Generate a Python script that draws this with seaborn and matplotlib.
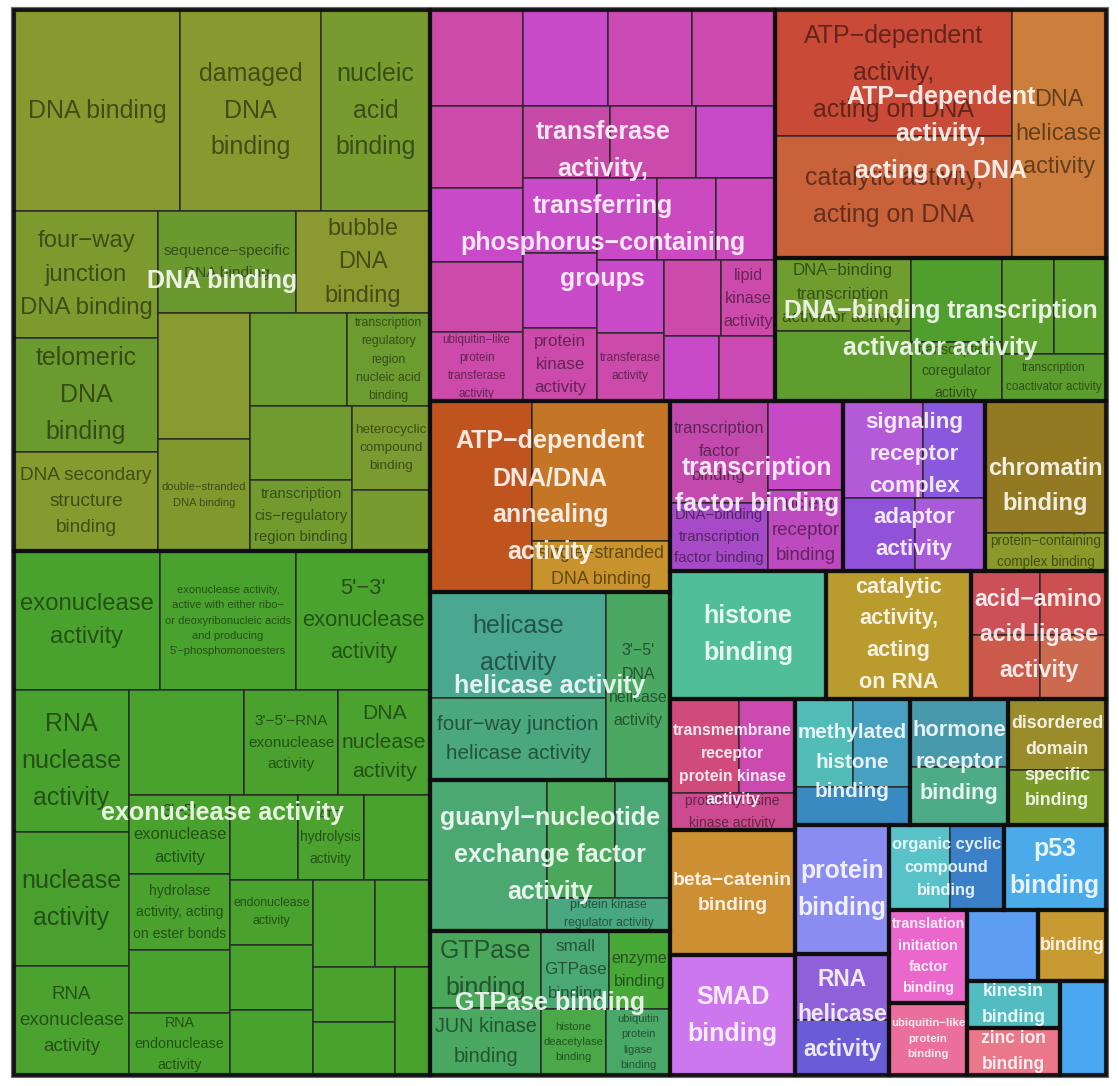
import matplotlib
matplotlib.use("Agg")
import matplotlib.pyplot as plt
from matplotlib.patches import Rectangle
import seaborn as sns

sns.set_theme(style="white")
plt.rcParams["font.family"] = ["Liberation Sans", "DejaVu Sans"]

# ---- parent terms (group labels) ----
parent_labels = [
    "DNA binding",
    "exonuclease activity",
    "transferase\nactivity,\ntransferring\nphosphorus−containing\ngroups",
    "ATP−dependent\nactivity,\nacting on DNA",
    "DNA−binding transcription\nactivator activity",
    "ATP−dependent\nDNA/DNA\nannealing\nactivity",
    "helicase activity",
    "guanyl−nucleotide\nexchange factor\nactivity",
    "GTPase binding",
    "transcription\nfactor binding",
    "signaling\nreceptor\ncomplex\nadaptor\nactivity",
    "chromatin\nbinding",
    "histone\nbinding",
    "catalytic\nactivity,\nacting\non RNA",
    "acid−amino\nacid ligase\nactivity",
    "transmembrane\nreceptor\nprotein kinase\nactivity",
    "beta−catenin\nbinding",
    "SMAD\nbinding",
    "methylated\nhistone\nbinding",
    "hormone\nreceptor\nbinding",
    "disordered\ndomain\nspecific\nbinding",
    "protein\nbinding",
    "RNA\nhelicase\nactivity",
    "organic cyclic\ncompound\nbinding",
    "p53\nbinding",
    "translation\ninitiation\nfactor\nbinding",
    "ubiquitin−like\nprotein\nbinding",
    "",
    "binding",
    "kinesin\nbinding",
    "zinc ion\nbinding",
    "",
]

# ---- terms: parent index, label, size ----
term_parent = (
    [0] * 16 + [1] * 24 + [2] * 23 + [3] * 3 + [4] * 7 + [5] * 3 + [6] * 3
    + [7] * 4 + [8] * 6 + [9] * 4 + [10] * 4 + [11] * 2 + [12] + [13]
    + [14] * 4 + [15] * 3 + [16] + [17] + [18] * 3 + [19] * 2 + [20] * 2
    + [21] + [22] * 2 + [23] * 2 + [24] + [25] + [26] + [27] + [28] + [29]
    + [30] + [31]
)

term_labels = [
    # DNA binding
    "DNA binding", "damaged\nDNA\nbinding", "nucleic\nacid\nbinding",
    "four−way\njunction\nDNA binding", "telomeric\nDNA\nbinding",
    "DNA secondary\nstructure\nbinding", "sequence−specific\nDNA binding",
    "bubble\nDNA\nbinding", "", "double−stranded\nDNA binding", "",
    "transcription\nregulatory\nregion\nnucleic acid\nbinding", "",
    "transcription\ncis−regulatory\nregion binding",
    "heterocyclic\ncompound\nbinding", "",
    # exonuclease activity
    "exonuclease\nactivity",
    "exonuclease activity,\nactive with either ribo−\nor deoxyribonucleic acids\nand producing\n5'−phosphomonoesters",
    "5'−3'\nexonuclease\nactivity", "RNA\nnuclease\nactivity", "nuclease\nactivity",
    "RNA\nexonuclease\nactivity", "", "3'−5'−RNA\nexonuclease\nactivity",
    "DNA\nnuclease\nactivity", "3'−5'\nexonuclease\nactivity",
    "hydrolase\nactivity, acting\non ester bonds", "", "RNA\nendonuclease\nactivity",
    "", "ATP\nhydrolysis\nactivity", "", "endonuclease\nactivity",
    "", "", "", "", "", "", "",
    # transferase
    "", "", "", "", "", "", "", "ubiquitin−like\nprotein\ntransferase\nactivity",
    "", "", "", "", "", "protein\nkinase\nactivity", "", "", "", "",
    "transferase\nactivity", "", "lipid\nkinase\nactivity", "", "",
    # ATP-dependent activity, acting on DNA
    "ATP−dependent\nactivity,\nacting on DNA", "catalytic activity,\nacting on DNA",
    "DNA\nhelicase\nactivity",
    # DNA-binding transcription activator activity
    "DNA−binding\ntranscription\nactivator activity", "", "",
    "transcription\ncoregulator\nactivity", "", "",
    "transcription\ncoactivator activity",
    # ATP-dependent DNA/DNA annealing
    "", "", "single−stranded\nDNA binding",
    # helicase activity
    "helicase\nactivity", "four−way junction\nhelicase activity",
    "3'−5'\nDNA\nhelicase\nactivity",
    # guanyl-nucleotide exchange factor activity
    "", "", "", "protein kinase\nregulator activity",
    # GTPase binding
    "GTPase\nbinding", "JUN kinase\nbinding", "small\nGTPase\nbinding",
    "enzyme\nbinding", "histone\ndeacetylase\nbinding",
    "ubiquitin\nprotein\nligase\nbinding",
    # transcription factor binding
    "transcription\nfactor\nbinding", "DNA−binding\ntranscription\nfactor binding",
    "", "nuclear\nreceptor\nbinding",
    # signaling receptor complex adaptor activity
    "", "", "", "",
    # chromatin binding
    "", "protein−containing\ncomplex binding",
    # histone binding, catalytic activity acting on RNA
    "", "",
    # acid-amino acid ligase
    "", "", "", "",
    # transmembrane receptor protein kinase
    "", "", "protein tyrosine\nkinase activity",
    # beta-catenin, SMAD
    "", "",
    # methylated histone, hormone receptor, disordered domain
    "", "", "", "", "", "", "",
    # protein binding, RNA helicase, organic cyclic
    "", "", "", "", "",
    # p53 ... last
    "", "", "", "", "", "", "", "",
]

term_sizes = [
    # DNA binding
    33366, 28341, 21909, 18288, 16416, 14256, 14076, 13668, 11592, 10304,
    9021, 7719, 7548, 7242, 6552, 4758,
    # exonuclease activity
    20294, 18904, 18626, 16330, 15410, 12535, 12075, 9870, 9660, 7979,
    7676, 6363, 6262, 5695, 5610, 5600, 5395, 5395, 5395, 5394, 4785,
    4510, 4346, 3780,
    # transferase
    8928, 8160, 8064, 8064, 7626, 6882, 6510, 6417, 6177, 6106, 5680,
    5550, 5550, 5400, 4920, 4900, 4880, 4860, 4556, 4408, 4104, 3640, 3640,
    # ATP-dependent activity, acting on DNA
    29736, 28792, 23312,
    # DNA-binding transcription activator activity
    9855, 9585, 7644, 5460, 4992, 4992, 4992,
    # ATP-dependent DNA/DNA annealing
    19400, 19200, 7000,
    # helicase activity
    18656, 14432, 12032,
    # guanyl-nucleotide exchange factor activity
    17667, 8024, 6490, 4059,
    # GTPase binding
    8547, 7437, 5304, 4758, 4290, 4224,
    # transcription factor binding
    9898, 6664, 6600, 6075,
    # signaling receptor complex adaptor activity
    7680, 5952, 5256, 5110,
    # chromatin binding
    15851, 4598,
    # histone binding, catalytic activity acting on RNA
    19968, 18688,
    # acid-amino acid ligase
    4422, 4422, 4221, 4221,
    # transmembrane receptor protein kinase
    6486, 5264, 4625,
    # beta-catenin, SMAD
    15600, 14900,
    # methylated histone, hormone receptor, disordered domain
    5100, 5050, 4370, 6700, 5700, 6900, 5400,
    # protein binding, RNA helicase, organic cyclic
    12200, 6175, 5225, 5100, 4590,
    # p53 ... last
    8670, 7176, 5616, 4970, 4828, 4420, 4400, 4300,
]

# ---- cell fill colours (style) ----
cell_colors = [
    "#889a2f", "#889a2f", "#789b2f", "#7d9a2f", "#6b9a2f", "#869a2f", "#6a9a2f",
    "#8a9a30", "#899b30", "#7e9a2f", "#6c9b2f", "#6c9b2f", "#719b2f", "#719b2f",
    "#7b9a2f", "#789b2f",
    "#4aa22e", "#4aa22e", "#4ba32f", "#4aa22e", "#4aa02e", "#4ba22f", "#4aa22e",
    "#4aa12e", "#4ba22f", "#4aa22e", "#4aa12e", "#4aa22e", "#4aa22e", "#4aa22e",
    "#4ba22f", "#4aa22e", "#4aa12e", "#4aa22e", "#4aa22e", "#4ba22f", "#4aa22e",
    "#4aa12e", "#4aa22e", "#4aa22e",
    "#cc4aa8", "#c84ac8", "#cc4ab4", "#cc4aae", "#cc4aaa", "#c84ac8", "#cc4aaa",
    "#cc4aaa", "#c84aa8", "#cc4aac", "#c84ac8", "#c84ac8", "#c84ac8", "#cc4aaa",
    "#c84ac4", "#cc4ac0", "#cc4abc", "#c84ac8", "#cc4aaa", "#cc4aaa", "#cc4aaa",
    "#c84ac8", "#cc4ab4",
    "#c84a37", "#c9613a", "#cc7f3c",
    "#6f9e2f", "#5f9e2e", "#4f9e2e", "#5a9e2e", "#5c9e2e", "#5c9e2e", "#5c9e2e",
    "#c0541f", "#c47526", "#c8922c",
    "#4aa890", "#4aa87c", "#4aa862",
    "#4aa870", "#4aa85a", "#4aa876", "#4aa880",
    "#4aa85c", "#4aa862", "#4aa872", "#48a838", "#4aa848", "#4aa868",
    "#c24aad", "#a74ac8", "#c64ac6", "#be4ac0",
    "#b25ad8", "#8a58dc", "#9052d8", "#a85ad8",
    "#937a22", "#8a9a2a",
    "#50be98", "#b99b2e",
    "#cc5058", "#cc5a4a", "#cc5050", "#cc6a50",
    "#d04a7a", "#cc4ab0", "#cc4a90",
    "#cc9033", "#cc77ee",
    "#52bdb8", "#48a0c0", "#3a8ac2", "#4899aa", "#4eab88", "#9a8c2a", "#7a9a2a",
    "#8a8cf2", "#9060d8", "#6a5cd6", "#58c2c8", "#3a80c8",
    "#4aaaea", "#ea68cc", "#ea6f9a", "#5e9ef2", "#c89a32", "#52bcc0", "#ea7888",
    "#4aa8f2",
]


def pivot_layout(sizes, x, y, w, h):
    """Pivot-by-size treemap (sizes sorted in decreasing order)."""
    if len(sizes) == 0:
        return []
    if len(sizes) == 1:
        return [(x, y, w, h)]
    total = sum(sizes)
    p, rest = sizes[0], sizes[1:]
    best_k, best_r = 0, None
    for k in range(len(rest) + 1):
        s = p + sum(rest[:k])
        if w >= h:
            a, b = w * s / total, h * p / s
        else:
            a, b = h * s / total, w * p / s
        r = max(a / b, b / a)
        if best_r is None or r < best_r - 1e-12:
            best_k, best_r = k, r
    l2, l3 = rest[:best_k], rest[best_k:]
    s = p + sum(l2)
    if w >= h:
        cw, ph = w * s / total, h * p / s
        return ([(x, y, cw, ph)] + pivot_layout(l2, x, y + ph, cw, h - ph)
                + pivot_layout(l3, x + cw, y, w - cw, h))
    rh, pw = h * s / total, w * p / s
    return ([(x, y, pw, rh)] + pivot_layout(l2, x + pw, y, w - pw, rh)
            + pivot_layout(l3, x, y + rh, w, h - rh))


# ---- layout ----
X0, Y0, W, H = 14, 10, 1092, 1065
n_par = len(parent_labels)
members = [[i for i, g in enumerate(term_parent) if g == k] for k in range(n_par)]
totals = [sum(term_sizes[i] for i in m) for m in members]
par_order = sorted(range(n_par), key=lambda k: -totals[k])
par_rects = dict(zip(par_order, pivot_layout([totals[k] for k in par_order], X0, Y0, W, H)))

term_rects = {}
for k in range(n_par):
    idx = sorted(members[k], key=lambda i: -term_sizes[i])
    px, py, pw, ph = par_rects[k]
    for i, r in zip(idx, pivot_layout([term_sizes[i] for i in idx], px, py, pw, ph)):
        term_rects[i] = r

fig = plt.figure(figsize=(11.18, 10.86), dpi=100)
ax = fig.add_axes([0, 0, 1, 1])
ax.set_xlim(0, 1118)
ax.set_ylim(1086, 0)
ax.set_axis_off()
renderer = fig.canvas.get_renderer()


def line_step(weight):
    t1 = ax.text(0, 0, "Ag", fontsize=20, fontweight=weight, linespacing=1.0)
    t2 = ax.text(0, 0, "Ag\nAg", fontsize=20, fontweight=weight, linespacing=1.0)
    d = t2.get_window_extent(renderer).height - t1.get_window_extent(renderer).height
    t1.remove()
    t2.remove()
    return d / (20 * 100 / 72)


# baseline-to-baseline spacing of about 1.46 em, as in the reference
LS_REG = 1.57 / line_step("normal")
LS_BOLD = 1.57 / line_step("bold")


def fit_text(rect, label, bold, color, pw, ph, z):
    if not label:
        return
    x, y, w, h = rect
    t = ax.text(x + w / 2, y + h / 2, label, ha="center", va="center",
                fontsize=10, fontweight="bold" if bold else "normal",
                color=color, linespacing=LS_BOLD if bold else LS_REG, zorder=z)
    bb = t.get_window_extent(renderer)
    t.set_fontsize(min(18, 10 * pw * w / bb.width, 10 * ph * h / bb.height))


# outer frame
ax.add_patch(Rectangle((X0 - 1, Y0 - 1), W + 2, H + 2, fill=False,
                       edgecolor="#707070", lw=3.0, zorder=0.5))

for i, (x, y, w, h) in term_rects.items():
    ax.add_patch(Rectangle((x, y), w, h, facecolor=cell_colors[i],
                           edgecolor=(0.15, 0.15, 0.15, 0.9), lw=1.1, zorder=1))
    fit_text((x, y, w, h), term_labels[i], False, (0, 0, 0, 0.5), 0.92, 0.95, 3)

for k, (x, y, w, h) in par_rects.items():
    ax.add_patch(Rectangle((x, y), w, h, fill=False,
                           edgecolor=(0.05, 0.05, 0.05, 0.85), lw=3.0, zorder=2))
    fit_text((x, y, w, h), parent_labels[k], True, (1, 1, 1, 0.87), 0.95, 0.95, 5)

fig.savefig("out.png", dpi=100, facecolor="white")
